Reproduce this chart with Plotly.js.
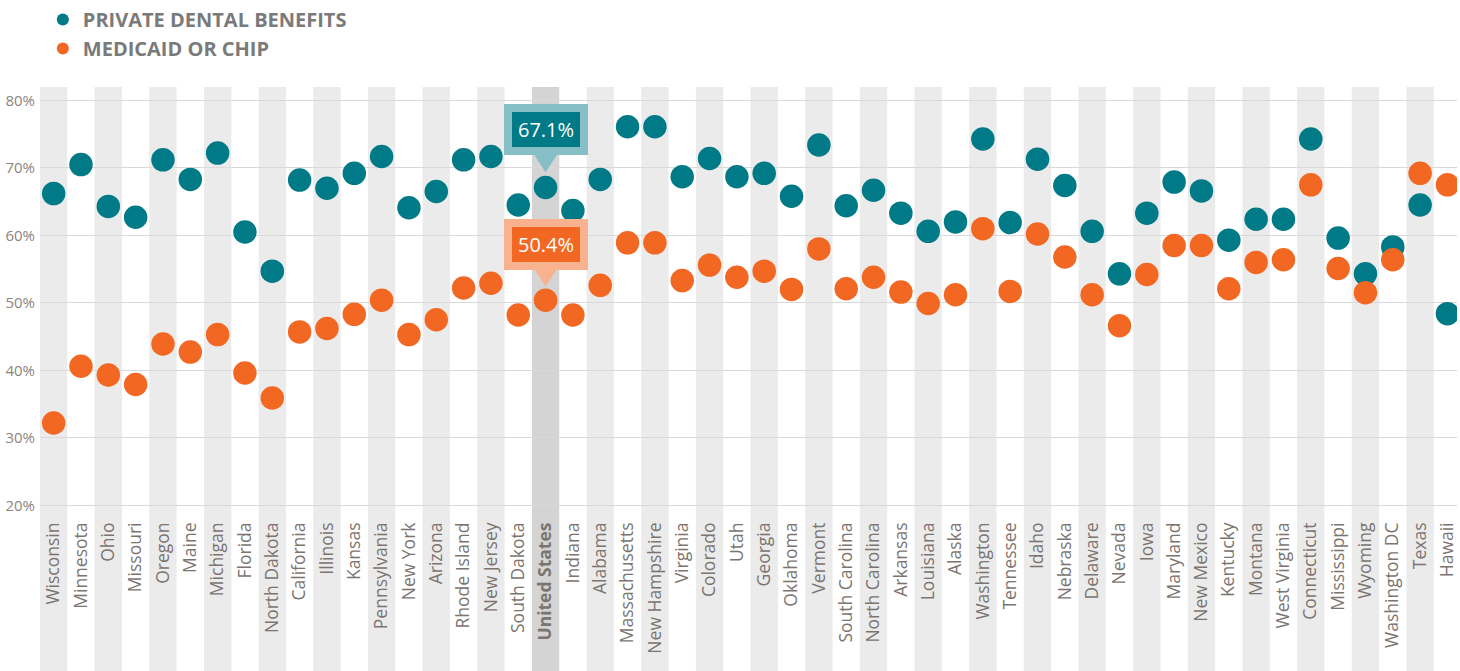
<!DOCTYPE html>
<html>
<head>
<meta charset="utf-8">
<script src="https://cdn.plot.ly/plotly-3.0.1.min.js"></script>
<style>html,body{margin:0;padding:0;background:#fff;}#chart{width:1460px;height:671px;}</style>
</head>
<body>
<div id="chart"></div>
<script>
const states = ["Wisconsin","Minnesota","Ohio","Missouri","Oregon","Maine","Michigan","Florida","North Dakota","California","Illinois","Kansas","Pennsylvania","New York","Arizona","Rhode Island","New Jersey","South Dakota","United States","Indiana","Alabama","Massachusetts","New Hampshire","Virginia","Colorado","Utah","Georgia","Oklahoma","Vermont","South Carolina","North Carolina","Arkansas","Louisiana","Alaska","Washington","Tennessee","Idaho","Nebraska","Delaware","Nevada","Iowa","Maryland","New Mexico","Kentucky","Montana","West Virginia","Connecticut","Mississippi","Wyoming","Washington DC","Texas","Hawaii"];
const privateDental = [66.2,70.5,64.3,62.7,71.2,68.3,72.2,60.5,54.7,68.2,67.0,69.2,71.7,64.1,66.5,71.2,71.7,64.5,67.1,63.7,68.3,76.1,76.1,68.7,71.4,68.7,69.2,65.8,73.4,64.4,66.7,63.3,60.6,62.0,74.3,61.9,71.3,67.4,60.6,54.3,63.3,67.9,66.6,59.3,62.4,62.4,74.3,59.6,54.3,58.3,64.5,48.4];
const medicaidChip = [32.2,40.6,39.3,37.9,43.9,42.7,45.3,39.6,35.9,45.7,46.2,48.3,50.4,45.3,47.5,52.2,52.9,48.2,50.4,48.2,52.6,58.9,58.9,53.3,55.6,53.8,54.7,52.0,58.0,52.1,53.8,51.6,49.9,51.2,61.0,51.7,60.2,56.8,51.2,46.6,54.2,58.5,58.5,52.1,56.0,56.4,67.5,55.1,51.5,56.4,69.2,67.5];
const yTickVals = [20,30,40,50,60,70,80];
const yTickText = ["20%","30%","40%","50%","60%","70%","80%"];
const highlight = "United States";
const seriesNames = ["PRIVATE DENTAL BENEFITS","MEDICAID OR CHIP"];

const TEAL = "#007a87", ORANGE = "#f26722";
const TEAL_LIGHT = "#86bfc6", ORANGE_LIGHT = "#f9b28f";
const hi = states.indexOf(highlight);

const shapes = [];
states.forEach((s, i) => {
  if (i % 2 === 0 || i === hi) {
    shapes.push({type:"rect", layer:"below", xref:"x", yref:"paper",
      x0:i-0.5, x1:i+0.5, y0:-0.4, y1:1,
      fillcolor: i === hi ? "#d4d4d4" : "#ebebeb", line:{width:0}});
  }
});
// callout pointers
shapes.push({type:"path", layer:"above", xref:"x", yref:"y", xsizemode:"pixel", ysizemode:"pixel",
  xanchor:hi, yanchor:privateDental[hi], path:"M-11.5,33 L11.5,33 L0,15 Z", fillcolor:TEAL_LIGHT, line:{width:0}});
shapes.push({type:"path", layer:"above", xref:"x", yref:"y", xsizemode:"pixel", ysizemode:"pixel",
  xanchor:hi, yanchor:medicaidChip[hi], path:"M-11.5,31.5 L11.5,31.5 L0,14 Z", fillcolor:ORANGE_LIGHT, line:{width:0}});

const annotations = [
  {x:highlight, y:privateDental[hi], xref:"x", yref:"y", showarrow:false, yshift:58,
   text:privateDental[hi].toFixed(1)+"%", font:{family:"Open Sans", size:20, color:"#fff"},
   bgcolor:TEAL, bordercolor:TEAL_LIGHT, borderwidth:8, borderpad:5, width:58, height:25},
  {x:highlight, y:medicaidChip[hi], xref:"x", yref:"y", showarrow:false, yshift:56,
   text:medicaidChip[hi].toFixed(1)+"%", font:{family:"Open Sans", size:20, color:"#fff"},
   bgcolor:ORANGE, bordercolor:ORANGE_LIGHT, borderwidth:8, borderpad:5, width:58, height:25}
];

const tickText = states.map(s => s === highlight ? "<b>"+s+"</b>" : s);

const data = [
  {type:"scatter", mode:"markers", name:seriesNames[0], x:states, y:privateDental,
   marker:{color:TEAL, size:23.5}, hoverinfo:"x+y"},
  {type:"scatter", mode:"markers", name:seriesNames[1], x:states, y:medicaidChip,
   marker:{color:ORANGE, size:23.5}, hoverinfo:"x+y"}
];

const layout = {
  width:1460, height:671,
  margin:{l:40, r:3, t:87, b:159},
  paper_bgcolor:"#fff", plot_bgcolor:"rgba(0,0,0,0)",
  font:{family:"Open Sans", color:"#7b7470"},
  showlegend:true,
  legend:{x:0.002, xanchor:"left", xref:"paper", y:1, yref:"container", yanchor:"top", orientation:"v",
    font:{family:"Open Sans", size:20, color:"#7a7a7a", weight:"bold"},
    itemsizing:"constant", bgcolor:"rgba(0,0,0,0)", tracegroupgap:0},
  xaxis:{type:"category", range:[-0.5, 51.35], tickmode:"array", tickvals:states, ticktext:tickText,
    tickangle:-90, showgrid:false, zeroline:false, showline:false, ticks:"",
    ticklabelstandoff:6, tickfont:{family:"Open Sans", size:17.5, color:"#7b7470"}, fixedrange:true},
  yaxis:{range:[19, 82], tickmode:"array", tickvals:yTickVals, ticktext:yTickText,
    showgrid:true, gridcolor:"#d9d9d9", gridwidth:1, zeroline:false, showline:false, ticks:"",
    ticklabelstandoff:4, tickfont:{family:"Open Sans", size:15, color:"#8c8580"}, fixedrange:true},
  shapes:shapes, annotations:annotations
};

Plotly.newPlot("chart", data, layout, {displayModeBar:false, staticPlot:true});
</script>
</body>
</html>
